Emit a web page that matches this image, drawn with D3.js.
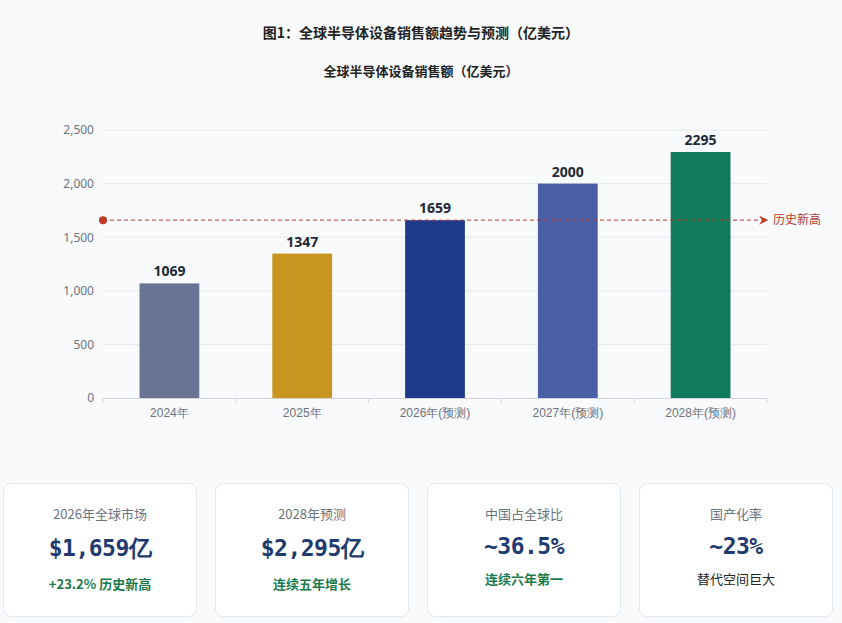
<!DOCTYPE html>
<html>
<head>
<meta charset="utf-8">
<script src="https://cdn.jsdelivr.net/npm/d3@7"></script>
<style>
  body { margin: 0; background: #f8fafc; font-family: "Noto Sans CJK SC", "Noto Sans", sans-serif; }
  #wrap { position: relative; width: 842px; height: 623px; overflow: hidden; }
  .card { position: absolute; top: 483px; width: 194px; height: 134px; background: #fff;
          border: 1px solid #e2e8f0; border-radius: 8px; box-sizing: border-box; text-align: center; }
  .card .lbl { margin-top: 20px; font-size: 13px; color: #6b7280; }
  .card .val { margin-top: 10px; font-size: 23px; font-weight: bold; color: #1e3a6e;
               font-family: "DejaVu Sans Mono", monospace; letter-spacing: -0.5px; }
  .card .sub { margin-top: 10px; font-size: 13px; font-weight: bold; color: #1a7a4c; }
  .card .sub.plain { font-weight: normal; color: #222; }
</style>
</head>
<body>
<div id="wrap">
  <svg id="chart" width="842" height="470"></svg>
</div>
<script>
// data
const years = ['2024年', '2025年', '2026年(预测)', '2027年(预测)', '2028年(预测)'];
const sales = [1069, 1347, 1659, 2000, 2295];
const barColors = ['#6b7394', '#c89620', '#1f3a8a', '#4a5fa5', '#117a5a'];
const yTicks = [0, 500, 1000, 1500, 2000, 2500];
const refValue = 1659;
const refLabel = '历史新高';
const cardLabels = ['2026年全球市场', '2028年预测', '中国占全球比', '国产化率'];
const cardValues = ['$1,659亿', '$2,295亿', '~36.5%', '~23%'];
const cardSubs = ['+23.2% 历史新高', '连续五年增长', '连续六年第一', '替代空间巨大'];

const margin = { top: 130, left: 103, right: 75, bottom: 72 };
const width = 842 - margin.left - margin.right;
const height = 398 - margin.top;

const svg = d3.select('#chart');

svg.append('text')
  .attr('x', 421).attr('y', 38)
  .attr('text-anchor', 'middle')
  .attr('font-size', 14).attr('font-weight', 'bold').attr('fill', '#222')
  .text('图1：全球半导体设备销售额趋势与预测（亿美元）');

svg.append('text')
  .attr('x', 421).attr('y', 76)
  .attr('text-anchor', 'middle')
  .attr('font-size', 13).attr('font-weight', 'bold').attr('fill', '#222')
  .text('全球半导体设备销售额（亿美元）');

const chart = svg.append('g')
  .attr('transform', `translate(${margin.left},${margin.top})`);

const xScale = d3.scaleBand().domain(years).range([0, width]).paddingInner(0.55).paddingOuter(0.275);
const yScale = d3.scaleLinear().domain([0, 2500]).range([height, 0]);

// grid
chart.append('g')
  .selectAll('line')
  .data(yTicks.filter(d => d > 0))
  .join('line')
  .attr('x1', 0).attr('x2', width)
  .attr('y1', d => yScale(d)).attr('y2', d => yScale(d))
  .attr('stroke', '#e5e7eb');

// y axis
const yAxisG = chart.append('g')
  .call(d3.axisLeft(yScale).tickValues(yTicks).tickFormat(d3.format(',')).tickSize(0).tickPadding(9));
yAxisG.select('.domain').remove();
yAxisG.selectAll('text').attr('font-size', 12).attr('fill', '#6b7280').attr('font-family', '"Noto Sans", sans-serif');

// x axis
const xAxisG = chart.append('g')
  .attr('transform', `translate(0,${height})`)
  .call(d3.axisBottom(xScale).tickSize(0).tickPadding(10));
xAxisG.select('.domain').attr('stroke', '#d1d5db');
xAxisG.selectAll('text').attr('font-size', 12).attr('fill', '#6b7280');
// boundary ticks between categories
const bounds = d3.range(years.length + 1).map(i => i * xScale.step());
xAxisG.selectAll('.bound')
  .data(bounds)
  .join('line')
  .attr('class', 'bound')
  .attr('x1', d => d).attr('x2', d => d)
  .attr('y1', 0).attr('y2', 5)
  .attr('stroke', '#d1d5db');

// bars
chart.selectAll('.bar')
  .data(sales)
  .join('rect')
  .attr('class', 'bar')
  .attr('x', (d, i) => xScale(years[i]))
  .attr('y', d => yScale(d))
  .attr('width', xScale.bandwidth())
  .attr('height', d => height - yScale(d))
  .attr('fill', (d, i) => barColors[i]);

chart.selectAll('.val')
  .data(sales)
  .join('text')
  .attr('class', 'val')
  .attr('x', (d, i) => xScale(years[i]) + xScale.bandwidth() / 2)
  .attr('y', d => yScale(d) - 7)
  .attr('text-anchor', 'middle')
  .attr('font-size', 14).attr('font-weight', 'bold').attr('fill', '#1f2937')
  .attr('font-family', '"Noto Sans", sans-serif')
  .text(d => d);

// reference line
svg.append('defs').append('marker')
  .attr('id', 'arrow')
  .attr('viewBox', '0 0 10 10')
  .attr('refX', 2).attr('refY', 5)
  .attr('markerWidth', 9).attr('markerHeight', 9)
  .attr('markerUnits', 'userSpaceOnUse')
  .attr('orient', 'auto')
  .append('path')
  .attr('d', 'M0,0 L10,5 L0,10 L3,5 Z')
  .attr('fill', '#c0392b');

const refY = yScale(refValue);
chart.append('line')
  .attr('x1', 0).attr('x2', width - 6)
  .attr('y1', refY).attr('y2', refY)
  .attr('stroke', '#b03a2e').attr('stroke-width', 1)
  .attr('stroke-dasharray', '4,3')
  .attr('marker-end', 'url(#arrow)');
chart.append('circle')
  .attr('cx', 0).attr('cy', refY).attr('r', 4)
  .attr('fill', '#c0392b');
chart.append('text')
  .attr('x', width + 6).attr('y', refY + 4)
  .attr('font-size', 12).attr('fill', '#b03a2e')
  .text(refLabel);

// summary cards
const cardX = [3, 215, 427, 639];
const cards = d3.select('#wrap').selectAll('.card')
  .data(cardLabels)
  .join('div')
  .attr('class', 'card')
  .style('left', (d, i) => cardX[i] + 'px');
cards.append('div').attr('class', 'lbl').text(d => d);
cards.append('div').attr('class', 'val').text((d, i) => cardValues[i]);
cards.append('div').attr('class', (d, i) => i === 3 ? 'sub plain' : 'sub').text((d, i) => cardSubs[i]);
</script>
</body>
</html>
